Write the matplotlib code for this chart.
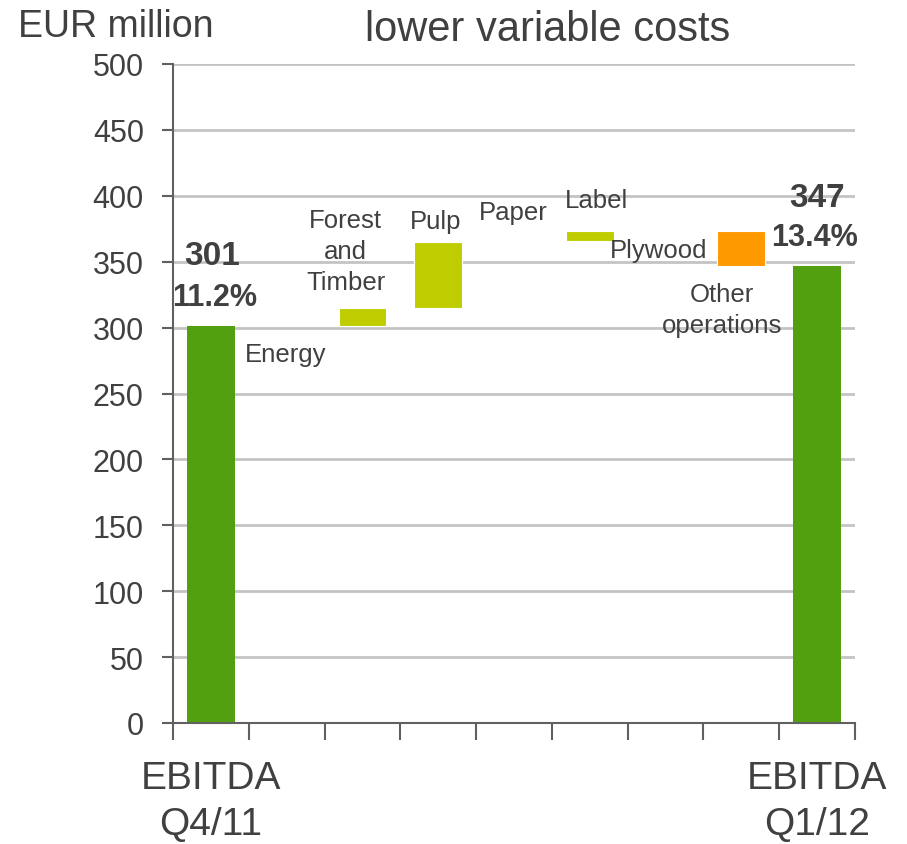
import matplotlib
matplotlib.use("Agg")
import matplotlib.pyplot as plt
import matplotlib.transforms as mtransforms

plt.rcParams['font.family'] = ['Liberation Sans', 'DejaVu Sans']

categories = ["EBITDA\nQ4/11", "Energy", "Forest\nand\nTimber", "Pulp", "Paper",
              "Label", "Plywood", "Other\noperations", "EBITDA\nQ1/12"]
start_value = 301
changes = [0, 14, 50, 1, 7, 0, -26]
end_value = 347
start_margin = "11.2%"
end_margin = "13.4%"
yticks = [0, 50, 100, 150, 200, 250, 300, 350, 400, 450, 500]

TXT = "#404040"
GREEN = "#52A00F"
LIME = "#BFCD00"
ORANGE = "#FF9900"
GRID = "#C4C4C4"

fig = plt.figure(figsize=(9.07, 8.45), dpi=100)
ax = fig.add_axes([173/907, 1-724/845, (855-173)/907, (724-65)/845])
ax.set_xlim(0, len(categories))
ax.set_ylim(0, 500)

for y in yticks[1:]:
    ax.axhline(y, color=GRID, lw=2, zorder=0)

w = 0.63
ax.bar(0.5, start_value, width=w, color=GREEN, zorder=2)
ax.bar(len(categories)-0.5, end_value, width=w, color=GREEN, zorder=2)

level = start_value
for i, ch in enumerate(changes):
    x = i + 1.5
    bottom = level if ch >= 0 else level + ch
    if ch == 0:
        if categories[i+1] == "Energy":
            ax.bar(x, 1.2, bottom=level - 0.6, width=w, color="white", zorder=1)
    else:
        color = LIME if ch > 0 else ORANGE
        ax.bar(x, abs(ch), bottom=bottom, width=w, color=color, zorder=2,
               edgecolor="white", linewidth=0.8)
    level += ch

# category labels
fs = 18.5
ax.text(1.49, 280, categories[1], ha="center", va="center", fontsize=fs, color=TXT)
ax.text(2.28, 358, categories[2], ha="center", va="center", fontsize=fs, color=TXT,
        linespacing=1.37)
ax.text(3.46, 381, categories[3], ha="center", va="center", fontsize=fs, color=TXT)
ax.text(4.49, 388, categories[4], ha="center", va="center", fontsize=fs, color=TXT)
ax.text(5.59, 396.5, categories[5], ha="center", va="center", fontsize=fs, color=TXT)
ax.text(6.41, 358.5, categories[6], ha="center", va="center", fontsize=fs, color=TXT)
ax.text(7.24, 314, categories[7], ha="center", va="center", fontsize=fs, color=TXT,
        linespacing=1.37)

# totals
ax.text(0.515, 355, f"{start_value}", ha="center", va="center", fontsize=24,
        fontweight="bold", color=TXT)
ax.text(0.55, 323.5, start_margin, ha="center", va="center", fontsize=22,
        fontweight="bold", color=TXT)
ax.text(8.5, 399, f"{end_value}", ha="center", va="center", fontsize=24,
        fontweight="bold", color=TXT)
ax.text(8.47, 369, end_margin, ha="center", va="center", fontsize=22,
        fontweight="bold", color=TXT)

for s in ["top", "right"]:
    ax.spines[s].set_visible(False)
for s in ["left", "bottom"]:
    ax.spines[s].set_color("#606060")
    ax.spines[s].set_linewidth(1.5)

ax.set_yticks(yticks)
ax.set_yticklabels([str(v) for v in yticks])
ax.tick_params(axis="y", labelsize=22, labelcolor=TXT, color="#606060",
               length=8, width=1.5, pad=13)

ax.set_xticks(range(len(categories)+1))
ax.set_xticklabels([])
ax.tick_params(axis="x", which="major", length=12, width=1.5, color="#606060")

trans = mtransforms.blended_transform_factory(ax.transData, fig.transFigure)
for xc, lab in [(0.5, categories[0]), (len(categories)-0.5, categories[-1])]:
    ax.text(xc, 1-802/845, lab, transform=trans, ha="center", va="center",
            fontsize=28, color=TXT, linespacing=1.35)

fig.text(18/907, 1-27/845, "EUR million", ha="left", va="center", fontsize=27, color=TXT)
fig.text(548/907, 1-30/845, "lower variable costs", ha="center", va="center",
         fontsize=30, color=TXT)

fig.savefig("out.png", dpi=100)
